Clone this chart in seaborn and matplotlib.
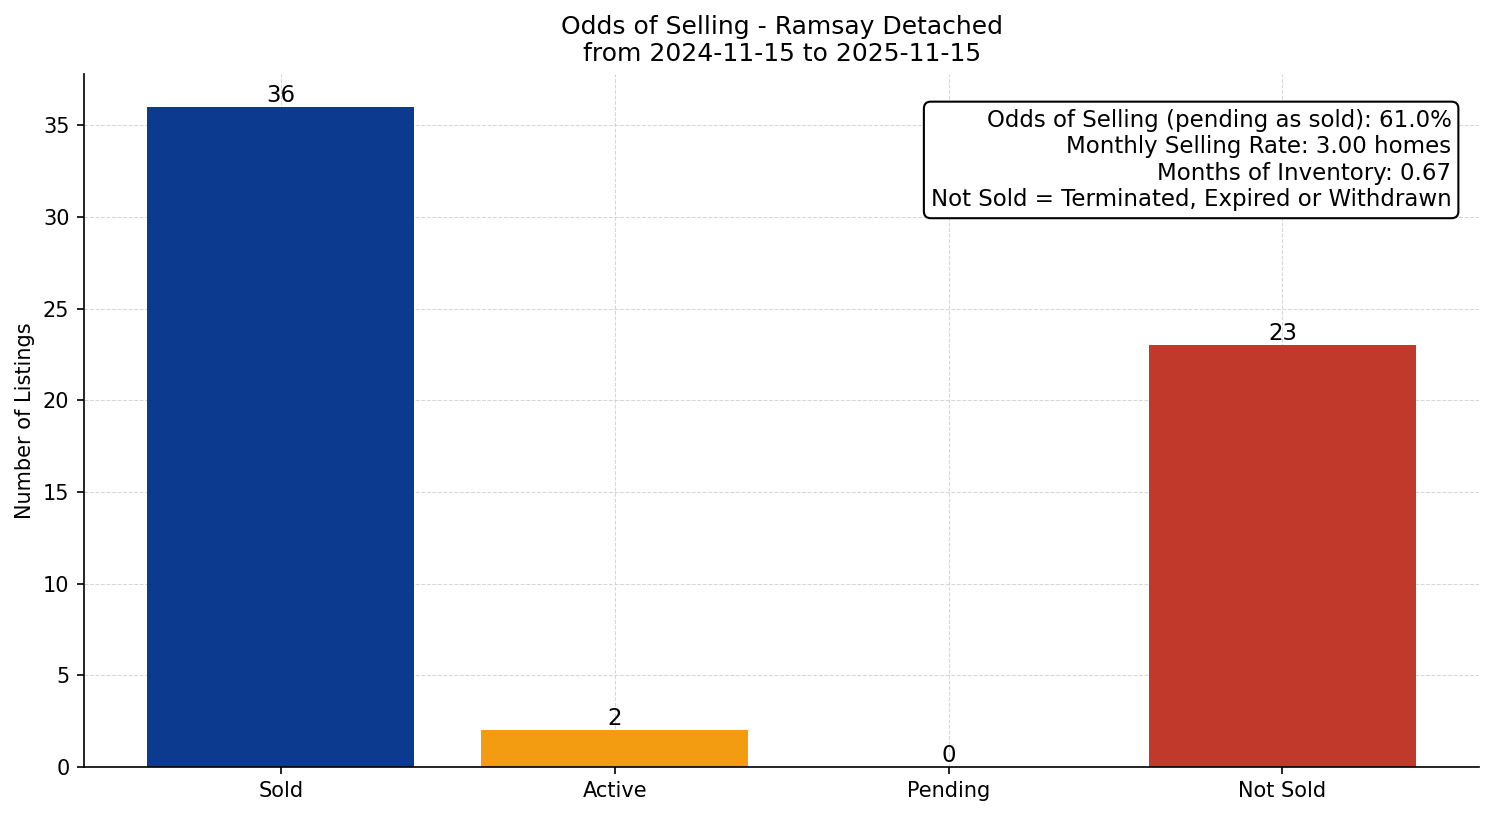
import matplotlib
matplotlib.use("Agg")
import matplotlib.pyplot as plt
import seaborn as sns
import pandas as pd

categories = ["Sold", "Active", "Pending", "Not Sold"]
counts = [36, 2, 0, 23]
colors = ["#0b3a8e", "#f39c12", "#2b7bb9", "#c0392b"]
title = "Odds of Selling - Ramsay Detached\nfrom 2024-11-15 to 2025-11-15"
info_lines = [
    "Odds of Selling (pending as sold): 61.0%",
    "Monthly Selling Rate: 3.00 homes",
    "Months of Inventory: 0.67",
    "Not Sold = Terminated, Expired or Withdrawn",
]

sns.set_style("ticks")
plt.rcParams['font.family'] = ['DejaVu Sans']
plt.rcParams.update({
    "text.color": "black", "axes.labelcolor": "black",
    "xtick.color": "black", "ytick.color": "black",
    "axes.edgecolor": "black",
})

df = pd.DataFrame({"Status": categories, "Count": counts})

fig, ax = plt.subplots(figsize=(9.96, 5.44), dpi=150)
sns.barplot(data=df, x="Status", y="Count", hue="Status", palette=colors,
            legend=False, width=0.8, saturation=1, linewidth=0, ax=ax, zorder=2)

for i, v in enumerate(counts):
    ax.text(i, v, str(v), ha="center", va="bottom", fontsize=11)

ax.set_title(title, fontsize=12)
ax.set_xlabel("")
ax.set_ylabel("Number of Listings", fontsize=10)
ax.tick_params(labelsize=10)
ax.set_xlim(-0.59, 3.59)
ax.set_ylim(0, 37.8)
ax.grid(True, linestyle="--", linewidth=0.5, color="#cccccc", alpha=0.8, zorder=3)
sns.despine(ax=ax)

ax.text(0.98, 0.95, "\n".join(info_lines), transform=ax.transAxes,
        ha="right", va="top", fontsize=11, zorder=5,
        bbox=dict(boxstyle="round,pad=0.3", facecolor="white", edgecolor="black", linewidth=1.0))

fig.tight_layout(pad=0.7)
fig.savefig("out.png", dpi=150)
